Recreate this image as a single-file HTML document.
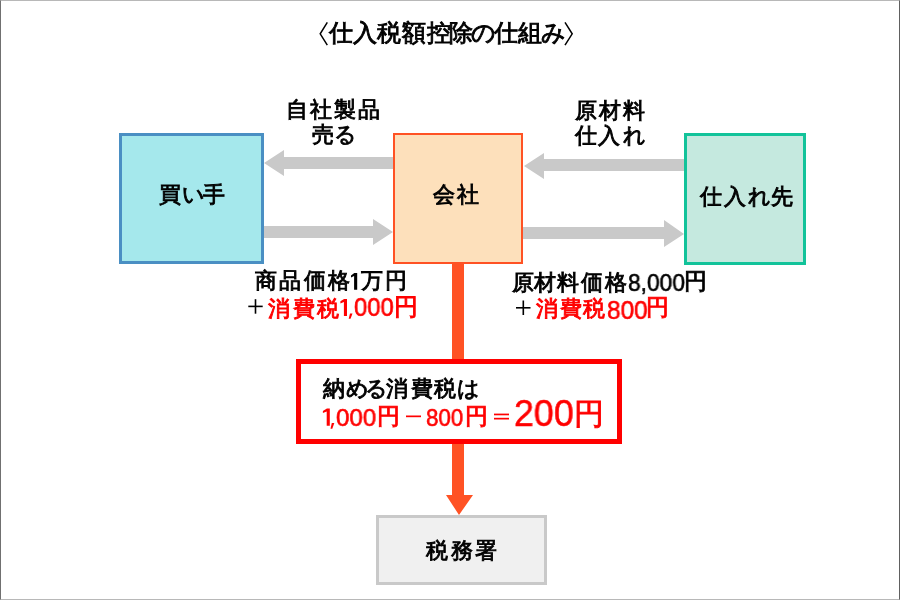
<!DOCTYPE html>
<html lang="ja">
<head>
<meta charset="utf-8">
<style>
html,body{margin:0;padding:0;}
body{width:900px;height:600px;position:relative;overflow:hidden;background:#fff;font-family:"Liberation Sans",sans-serif;color:#000;}
#frame{position:absolute;left:0;top:0;width:900px;height:600px;box-sizing:border-box;border-top:1px solid #b8b8b8;border-bottom:1px solid #b8b8b8;border-left:1px solid #707070;border-right:1px solid #606060;}
.t{position:absolute;white-space:nowrap;line-height:1;-webkit-text-stroke:0.9px #000;will-change:transform;}
.box{position:absolute;box-sizing:border-box;}
.r{color:#ff0000;-webkit-text-stroke-color:#ff0000;}
.d{-webkit-text-stroke-width:0.6px;}
#t14e{-webkit-text-stroke-width:0.5px;}
svg{position:absolute;left:0;top:0;}
</style>
</head>
<body>
<div id="frame"></div>
<svg width="900" height="600" viewBox="0 0 900 600">
  <!-- gray arrows -->
  <polygon fill="#c9c9c9" points="393,157 284,157 284,150 264,163 284,176 284,169 393,169"/>
  <polygon fill="#c9c9c9" points="264,226 373,226 373,219 393,232 373,245 373,238 264,238"/>
  <polygon fill="#c9c9c9" points="684,159 544,159 544,153 524,166 544,179 544,171 684,171"/>
  <polygon fill="#c9c9c9" points="523,227 664,227 664,220 684,234 664,247 664,239 523,239"/>
  <!-- orange vertical -->
  <rect x="452" y="262" width="12" height="98" fill="#ff5224"/>
  <polygon fill="#ff5224" points="452,444 464,444 464,495 473,495 459,515 446,495 452,495"/>
</svg>
<div class="box" style="left:119px;top:133px;width:145px;height:131px;background:#a5e8ec;border:3px solid #4a8fc3;"></div>
<div class="box" style="left:393px;top:133px;width:130px;height:131px;background:#fde0bb;border:2px solid #ff5224;"></div>
<div class="box" style="left:684px;top:133px;width:122px;height:132px;background:#c5e9df;border:3px solid #12c39a;"></div>
<div class="box" style="left:296px;top:359px;width:326px;height:85px;background:#fff;border:5px solid #ff0000;"></div>
<div class="box" style="left:376px;top:515px;width:171px;height:70px;background:#f0f0f0;border:3px solid #c9c9c9;"></div>

<div class="t" id="t1_0" style="left:328.60px;top:22.40px;font-size:23.50px;letter-spacing:0.00px;">仕</div>
<div class="t" id="t1_1" style="left:353.10px;top:22.40px;font-size:23.50px;letter-spacing:0.00px;">入</div>
<div class="t" id="t1_2" style="left:377.10px;top:22.40px;font-size:23.50px;letter-spacing:0.00px;">税</div>
<div class="t" id="t1_3" style="left:401.80px;top:22.40px;font-size:23.50px;letter-spacing:0.00px;">額</div>
<div class="t" id="t1_4" style="left:426.50px;top:22.40px;font-size:23.50px;letter-spacing:0.00px;">控</div>
<div class="t" id="t1_5" style="left:449.00px;top:22.40px;font-size:23.50px;letter-spacing:0.00px;">除</div>
<div class="t" id="t1_6" style="left:471.00px;top:22.40px;font-size:23.50px;letter-spacing:0.00px;">の</div>
<div class="t" id="t1_7" style="left:493.80px;top:22.40px;font-size:23.50px;letter-spacing:0.00px;">仕</div>
<div class="t" id="t1_8" style="left:517.70px;top:22.40px;font-size:23.50px;letter-spacing:0.00px;">組</div>
<div class="t" id="t1_9" style="left:540.80px;top:22.40px;font-size:23.50px;letter-spacing:0.00px;">み</div>
<div class="t" id="t2_0" style="left:285.90px;top:98.50px;font-size:22.00px;letter-spacing:0.00px;">自</div>
<div class="t" id="t2_1" style="left:309.50px;top:98.50px;font-size:22.00px;letter-spacing:0.00px;">社</div>
<div class="t" id="t2_2" style="left:334.30px;top:98.50px;font-size:22.00px;letter-spacing:0.00px;">製</div>
<div class="t" id="t2_3" style="left:357.60px;top:98.50px;font-size:22.00px;letter-spacing:0.00px;">品</div>
<div class="t" id="t3_0" style="left:312.20px;top:124.30px;font-size:22.00px;letter-spacing:0.00px;">売</div>
<div class="t" id="t3_1" style="left:333.90px;top:124.30px;font-size:22.00px;letter-spacing:0.00px;">る</div>
<div class="t" id="t4_0" style="left:574.80px;top:99.50px;font-size:22.00px;letter-spacing:0.00px;">原</div>
<div class="t" id="t4_1" style="left:598.90px;top:99.50px;font-size:22.00px;letter-spacing:0.00px;">材</div>
<div class="t" id="t4_2" style="left:623.40px;top:99.50px;font-size:22.00px;letter-spacing:0.00px;">料</div>
<div class="t" id="t5_0" style="left:575.00px;top:125.10px;font-size:22.00px;letter-spacing:0.00px;">仕</div>
<div class="t" id="t5_1" style="left:598.40px;top:125.10px;font-size:22.00px;letter-spacing:0.00px;">入</div>
<div class="t" id="t5_2" style="left:622.50px;top:125.10px;font-size:22.00px;letter-spacing:0.00px;">れ</div>
<div class="t" id="t6_0" style="left:159.00px;top:184.00px;font-size:22.00px;letter-spacing:0.00px;">買</div>
<div class="t" id="t6_1" style="left:182.00px;top:184.00px;font-size:22.00px;letter-spacing:0.00px;">い</div>
<div class="t" id="t6_2" style="left:202.50px;top:184.00px;font-size:22.00px;letter-spacing:0.00px;">手</div>
<div class="t" id="t7_0" style="left:432.70px;top:183.60px;font-size:22.00px;letter-spacing:0.00px;">会</div>
<div class="t" id="t7_1" style="left:457.30px;top:183.60px;font-size:22.00px;letter-spacing:0.00px;">社</div>
<div class="t" id="t8_0" style="left:700.10px;top:185.90px;font-size:22.00px;letter-spacing:0.00px;">仕</div>
<div class="t" id="t8_1" style="left:723.90px;top:185.90px;font-size:22.00px;letter-spacing:0.00px;">入</div>
<div class="t" id="t8_2" style="left:747.90px;top:185.90px;font-size:22.00px;letter-spacing:0.00px;">れ</div>
<div class="t" id="t8_3" style="left:770.50px;top:185.90px;font-size:22.00px;letter-spacing:0.00px;">先</div>
<div class="t" id="t9a_0" style="left:255.30px;top:270.00px;font-size:22.00px;letter-spacing:0.00px;">商</div>
<div class="t" id="t9a_1" style="left:278.80px;top:270.00px;font-size:22.00px;letter-spacing:0.00px;">品</div>
<div class="t" id="t9a_2" style="left:303.70px;top:270.00px;font-size:22.00px;letter-spacing:0.00px;">価</div>
<div class="t" id="t9a_3" style="left:327.50px;top:270.00px;font-size:22.00px;letter-spacing:0.00px;">格</div>
<div class="t" id="t9c_0" style="left:360.60px;top:270.00px;font-size:22.00px;letter-spacing:0.00px;">万</div>
<div class="t" id="t9c_1" style="left:384.90px;top:270.00px;font-size:22.00px;letter-spacing:0.00px;">円</div>
<div class="t r" id="t10a_0" style="left:268.20px;top:297.50px;font-size:22.00px;letter-spacing:0.00px;">消</div>
<div class="t r" id="t10a_1" style="left:293.10px;top:297.50px;font-size:22.00px;letter-spacing:0.00px;">費</div>
<div class="t r" id="t10a_2" style="left:316.80px;top:297.50px;font-size:22.00px;letter-spacing:0.00px;">税</div>
<div class="t r d" id="t10b" style="left:353.80px;top:295.40px;font-size:25.16px;letter-spacing:0.00px;transform-origin:0 0;transform:scaleX(0.9466);">000</div>
<div class="t r" id="t10c" style="left:394.00px;top:295.10px;font-size:24.44px;letter-spacing:0.00px;">円</div>
<div class="t" id="t11a_0" style="left:512.30px;top:271.50px;font-size:22.00px;letter-spacing:0.00px;">原</div>
<div class="t" id="t11a_1" style="left:534.00px;top:271.50px;font-size:22.00px;letter-spacing:0.00px;">材</div>
<div class="t" id="t11a_2" style="left:556.60px;top:271.50px;font-size:22.00px;letter-spacing:0.00px;">料</div>
<div class="t" id="t11a_3" style="left:580.90px;top:271.50px;font-size:22.00px;letter-spacing:0.00px;">価</div>
<div class="t" id="t11a_4" style="left:605.00px;top:271.50px;font-size:22.00px;letter-spacing:0.00px;">格</div>
<div class="t d" id="t11b" style="left:627.50px;top:271.00px;font-size:24.00px;letter-spacing:0.00px;transform-origin:0 0;transform:scaleX(0.9483);">8,000</div>
<div class="t" id="t11c" style="left:684.00px;top:269.50px;font-size:23.25px;letter-spacing:0.00px;">円</div>
<div class="t r" id="t12a_0" style="left:536.30px;top:298.00px;font-size:22.00px;letter-spacing:0.00px;">消</div>
<div class="t r" id="t12a_1" style="left:560.10px;top:298.00px;font-size:22.00px;letter-spacing:0.00px;">費</div>
<div class="t r" id="t12a_2" style="left:582.60px;top:298.00px;font-size:22.00px;letter-spacing:0.00px;">税</div>
<div class="t r d" id="t12b" style="left:606.50px;top:298.00px;font-size:25.48px;letter-spacing:0.00px;transform-origin:0 0;transform:scaleX(0.9568);">800</div>
<div class="t r" id="t12c" style="left:646.00px;top:295.50px;font-size:23.25px;letter-spacing:0.00px;">円</div>
<div class="t" id="t13_0" style="left:323.30px;top:378.30px;font-size:22.00px;letter-spacing:0.00px;">納</div>
<div class="t" id="t13_1" style="left:346.40px;top:378.30px;font-size:22.00px;letter-spacing:0.00px;">め</div>
<div class="t" id="t13_2" style="left:365.20px;top:378.30px;font-size:22.00px;letter-spacing:0.00px;">る</div>
<div class="t" id="t13_3" style="left:385.80px;top:378.30px;font-size:22.00px;letter-spacing:0.00px;">消</div>
<div class="t" id="t13_4" style="left:410.50px;top:378.30px;font-size:22.00px;letter-spacing:0.00px;">費</div>
<div class="t" id="t13_5" style="left:433.70px;top:378.30px;font-size:22.00px;letter-spacing:0.00px;">税</div>
<div class="t" id="t13_6" style="left:457.30px;top:378.30px;font-size:22.00px;letter-spacing:0.00px;">は</div>
<div class="t r d" id="t14a" style="left:336.10px;top:405.90px;font-size:24.32px;letter-spacing:0.00px;transform-origin:0 0;transform:scaleX(0.9913);">000</div>
<div class="t r" id="t14b" style="left:377.40px;top:404.80px;font-size:23.20px;letter-spacing:0.00px;">円</div>
<div class="t r d" id="t14c" style="left:426.00px;top:405.80px;font-size:24.32px;letter-spacing:0.00px;transform-origin:0 0;transform:scaleX(0.9176);">800</div>
<div class="t r" id="t14d" style="left:465.00px;top:404.80px;font-size:23.20px;letter-spacing:0.00px;">円</div>
<div class="t r d" id="t14e" style="left:513.90px;top:396.10px;font-size:36.60px;letter-spacing:0.00px;transform-origin:0 0;transform:scaleX(0.9786);">200</div>
<div class="t r" id="t14f" style="left:574.40px;top:399.10px;font-size:30.00px;letter-spacing:0.00px;">円</div>
<div class="t" id="t15_0" style="left:425.50px;top:539.90px;font-size:22.00px;letter-spacing:0.00px;">税</div>
<div class="t" id="t15_1" style="left:451.00px;top:539.90px;font-size:22.00px;letter-spacing:0.00px;">務</div>
<div class="t" id="t15_2" style="left:475.30px;top:539.90px;font-size:22.00px;letter-spacing:0.00px;">署</div>
<svg width="900" height="600" viewBox="0 0 900 600">
  <path fill="#000" d="M357.2,273.0 L357.2,289.7 L354.10,289.7 L354.10,276.00 L351.0,277.50 L351.0,275.40 L354.30,273.0 Z"/>
  <path fill="#f00" d="M347.0,298.9 L347.0,316.0 L343.90,316.0 L343.90,301.90 L340.4,303.40 L340.4,301.30 L344.10,298.9 Z"/>
  <path fill="#f00" d="M350.00,313.6 L352.5,313.6 L350.50,318.7 L348.70,318.7 Z"/>
  <path fill="#f00" d="M329.8,408.5 L329.8,425.8 L326.70,425.8 L326.70,411.50 L322.9,413.00 L322.9,410.90 L326.90,408.5 Z"/>
  <path fill="#f00" d="M331.80,423.0 L334.3,423.0 L332.30,428.7 L330.50,428.7 Z"/>
  <polyline points="327.3,22.3 320.2,33.8 327.3,45.2" fill="none" stroke="#000" stroke-width="1.5"/>
  <polyline points="565,22.3 572.2,33.8 565,45.2" fill="none" stroke="#000" stroke-width="1.5"/>
  <rect x="248.3" y="305.6" width="14.4" height="1.6" fill="#000"/>
  <rect x="254.7" y="299.2" width="1.6" height="14.5" fill="#000"/>
  <rect x="516" y="307" width="14.5" height="1.6" fill="#000"/>
  <rect x="522.5" y="300.5" width="1.6" height="14.5" fill="#000"/>
  <rect x="406" y="415.5" width="15" height="1.7" fill="#f00"/>
  <rect x="494" y="413.6" width="15" height="1.7" fill="#f00"/>
  <rect x="494" y="417.8" width="15" height="1.7" fill="#f00"/>
</svg>
</body>
</html>
